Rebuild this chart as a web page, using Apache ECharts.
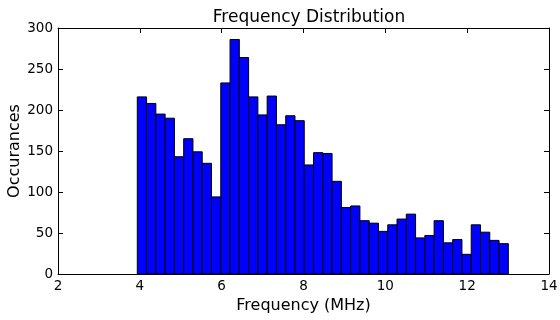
<!DOCTYPE html>
<html>
<head>
<meta charset="utf-8">
<script src="https://cdn.jsdelivr.net/npm/echarts@6/dist/echarts.min.js"></script>
<style>
  html, body { margin: 0; padding: 0; background: #fff; }
  #chart { width: 560px; height: 320px; }
</style>
</head>
<body>
<div id="chart"></div>
<script>
// Histogram bins: first edge, bin width, and counts per bin
const binStart = 3.938;
const binWidth = 0.2267;
const counts = [
  216, 208, 195, 190, 143, 165, 149, 135, 94, 233,
  286, 264, 216, 194, 217, 182, 193, 187, 133, 148,
  147, 113, 81, 83, 65, 62, 52, 60, 67, 73,
  44, 47, 65, 38, 42, 24, 60, 51, 41, 37
];
const xTicks = [2, 4, 6, 8, 10, 12, 14];
const yTicks = [0, 50, 100, 150, 200, 250, 300];

const FONT = 'DejaVu Sans';
const bins = counts.map((c, i) => [binStart + i * binWidth, binStart + (i + 1) * binWidth, c]);

const chart = echarts.init(document.getElementById('chart'), null, { renderer: 'canvas' });

const tickCommon = { show: true, inside: true, length: 5, lineStyle: { color: '#000', width: 1 } };
const lineCommon = { show: true, onZero: false, lineStyle: { color: '#000', width: 1 } };

chart.setOption({
  animation: false,
  backgroundColor: '#fff',
  title: {
    text: 'Frequency Distribution',
    left: 304, top: 4, textAlign: 'center',
    textStyle: { fontFamily: FONT, fontSize: 17, fontWeight: 'normal', color: '#000' }
  },
  grid: { left: 58, right: 11, top: 28, bottom: 46, containLabel: false, outerBoundsMode: 'none' },
  xAxis: [{
    type: 'value', min: xTicks[0], max: xTicks[xTicks.length - 1], interval: 2,
    position: 'bottom',
    name: 'Frequency (MHz)', nameLocation: 'middle', nameGap: 24, nameMoveOverlap: false,
    nameTextStyle: { fontFamily: FONT, fontSize: 16, color: '#000' },
    axisLine: lineCommon, axisTick: tickCommon,
    axisLabel: { fontFamily: FONT, fontSize: 13.5, color: '#000', margin: 5 },
    splitLine: { show: false }
  }, {
    type: 'value', min: xTicks[0], max: xTicks[xTicks.length - 1], interval: 2,
    position: 'top',
    axisLine: lineCommon, axisTick: tickCommon,
    axisLabel: { show: false }, splitLine: { show: false }
  }],
  yAxis: [{
    type: 'value', min: yTicks[0], max: yTicks[yTicks.length - 1], interval: 50,
    position: 'left',
    name: 'Occurances', nameLocation: 'middle', nameGap: 35, nameMoveOverlap: false,
    nameTextStyle: { fontFamily: FONT, fontSize: 16, color: '#000' },
    axisLine: lineCommon, axisTick: tickCommon,
    axisLabel: { fontFamily: FONT, fontSize: 13.5, color: '#000', margin: 5 },
    splitLine: { show: false }
  }, {
    type: 'value', min: yTicks[0], max: yTicks[yTicks.length - 1], interval: 50,
    position: 'right',
    axisLine: lineCommon, axisTick: tickCommon,
    axisLabel: { show: false }, splitLine: { show: false }
  }],
  series: [{
    type: 'custom',
    xAxisIndex: 0, yAxisIndex: 0,
    data: bins,
    encode: { x: [0, 1], y: 2 },
    renderItem: function (params, api) {
      const p0 = api.coord([api.value(0), 0]);
      const p1 = api.coord([api.value(1), api.value(2)]);
      return {
        type: 'rect',
        shape: { x: p0[0], y: p1[1], width: p1[0] - p0[0], height: p0[1] - p1[1] },
        style: { fill: '#0000ff', stroke: '#000', lineWidth: 1 }
      };
    }
  }]
});
</script>
</body>
</html>
